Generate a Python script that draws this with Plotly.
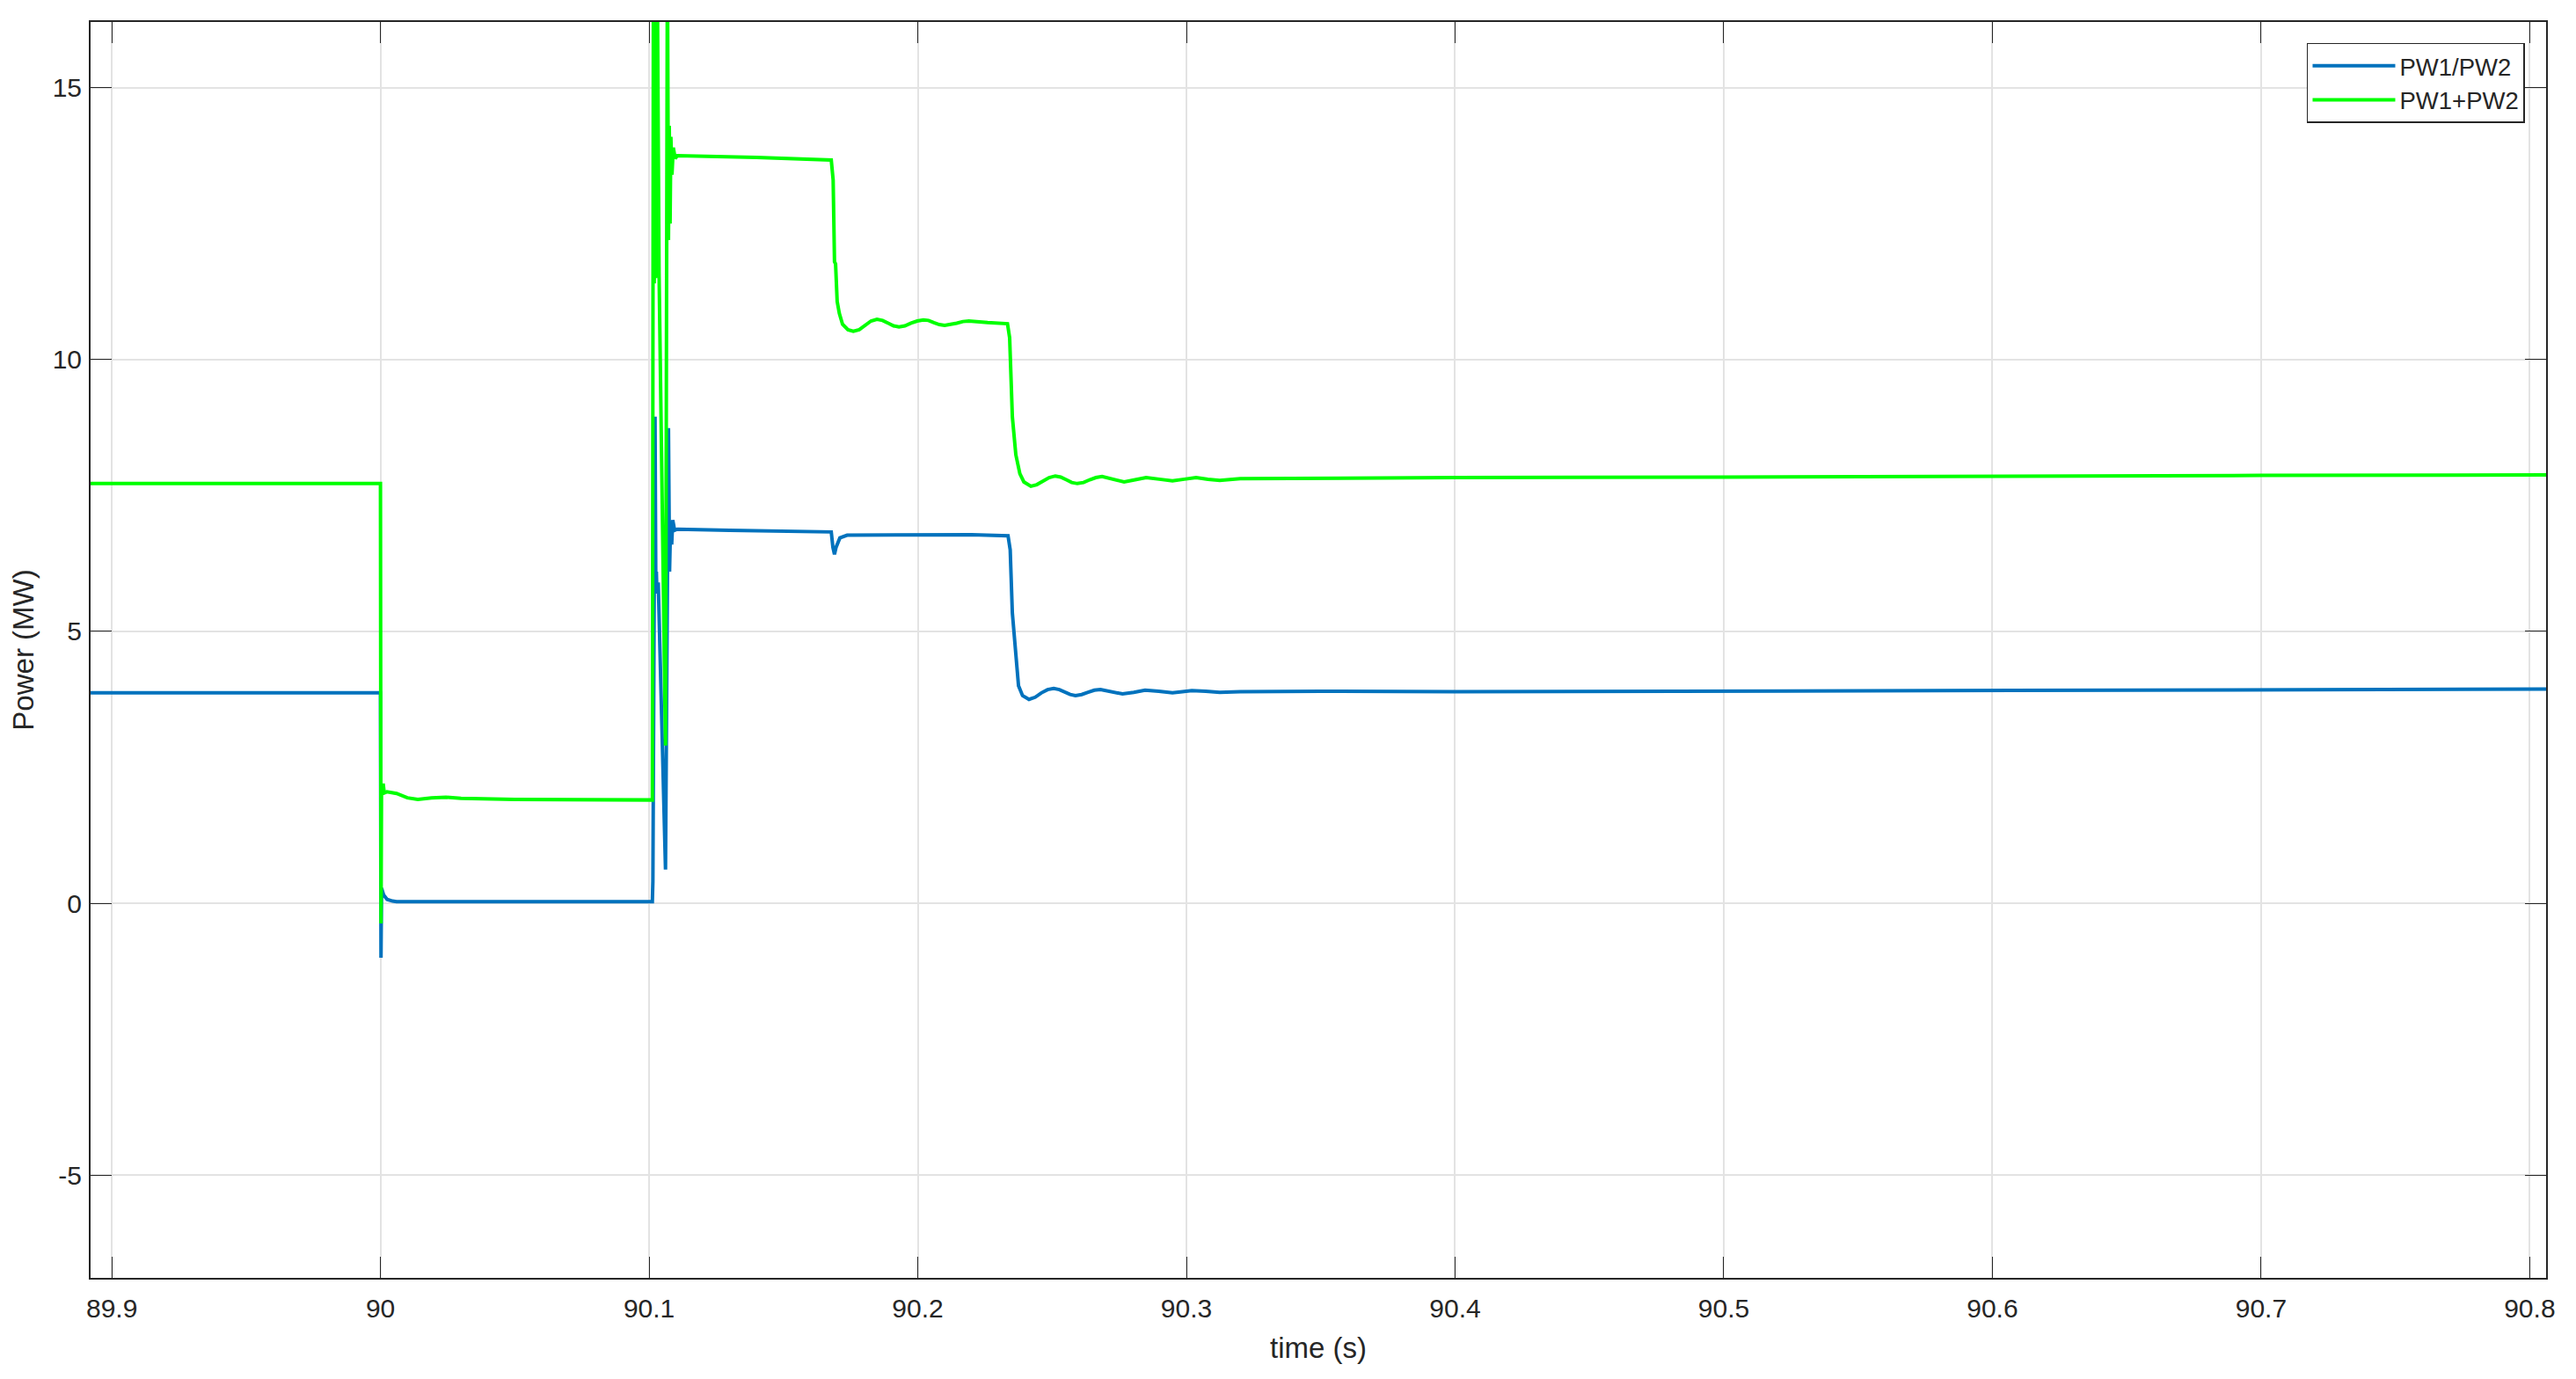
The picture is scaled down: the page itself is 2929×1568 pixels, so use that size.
import plotly.graph_objects as go

# ---------------- data ----------------
series_names = ["PW1/PW2", "PW1+PW2"]

t_ratio = [
    89.892, 90.0, 90.0002, 90.0004, 90.0012, 90.0025, 90.0045, 90.006, 90.05,
    90.1012, 90.1014, 90.1022, 90.1025, 90.1027, 90.1029, 90.1034, 90.1061,
    90.1072, 90.1076, 90.1080, 90.1084, 90.1088, 90.1095, 90.1105, 90.13,
    90.15, 90.1678, 90.1684, 90.1690, 90.1696, 90.1710, 90.1737, 90.20,
    90.22, 90.2336, 90.2344, 90.2352, 90.2375, 90.2390, 90.2414, 90.2437,
    90.2460, 90.2483, 90.2506, 90.2527, 90.2547, 90.2567, 90.2587, 90.2610,
    90.2634, 90.2657, 90.2680, 90.2721, 90.2762, 90.2804, 90.2846, 90.2897,
    90.2948, 90.2985, 90.3020, 90.3072, 90.3124, 90.32, 90.35, 90.40, 90.50,
    90.60, 90.70, 90.8061,
]
p_ratio = [
    3.87, 3.87, -1.0, 0.28, 0.15, 0.07, 0.04, 0.03, 0.03,
    0.03, 0.4, 8.95, 5.8, 6.1, 5.7, 5.9, 0.62,
    8.74, 6.1, 7.0, 6.6, 7.05, 6.86, 6.88, 6.86,
    6.85, 6.83, 6.55, 6.42, 6.55, 6.72, 6.77, 6.78,
    6.78, 6.76, 6.5, 5.34, 4.0, 3.82, 3.75, 3.79,
    3.87, 3.93, 3.95, 3.93, 3.88, 3.84, 3.82, 3.84,
    3.88, 3.92, 3.93, 3.89, 3.85, 3.88, 3.92, 3.9,
    3.87, 3.89, 3.91, 3.9, 3.88, 3.89, 3.9, 3.89, 3.9,
    3.91, 3.92, 3.94,
]

t_sum = [
    89.892, 90.0, 90.0002, 90.0004, 90.0007, 90.0010, 90.0014, 90.0024,
    90.006, 90.010, 90.0139, 90.019, 90.0244, 90.030, 90.050, 90.1012,
    90.1016, 90.1019, 90.1021, 90.1024, 90.1027, 90.1030, 90.1037, 90.1061,
    90.1068, 90.1072, 90.1075, 90.1078, 90.1081, 90.1085, 90.1090, 90.1097,
    90.1105, 90.14, 90.1678, 90.1685, 90.1690, 90.1694, 90.1700, 90.1708,
    90.1720, 90.1740, 90.1760, 90.1782, 90.1805, 90.1826, 90.1848, 90.1869,
    90.1890, 90.1910, 90.1930, 90.1952, 90.1975, 90.1998, 90.2021, 90.2040,
    90.2060, 90.2080, 90.2100, 90.2122, 90.2145, 90.2168, 90.2190, 90.2260,
    90.2334, 90.2342, 90.2349, 90.2352, 90.2365, 90.2380, 90.2395, 90.2421,
    90.2443, 90.2466, 90.2489, 90.2512, 90.2532, 90.2553, 90.2573, 90.2594,
    90.2617, 90.2640, 90.2663, 90.2686, 90.2727, 90.2768, 90.2809, 90.2850,
    90.2899, 90.2948, 90.2992, 90.3036, 90.3080, 90.3124, 90.32, 90.35,
    90.40, 90.50, 90.60, 90.70, 90.8061,
]
p_sum = [
    7.72, 7.72, -0.37, 2.2, 2.05, 2.2, 2.03, 2.05,
    2.02, 1.94, 1.91, 1.94, 1.95, 1.93, 1.91, 1.90,
    17.5, 11.4, 12.6, 11.5, 12.4, 17.5, 11.6, 2.9,
    17.5, 12.2, 14.3, 12.5, 14.1, 13.4, 13.9, 13.7,
    13.75, 13.72, 13.67, 13.3, 11.8, 11.76, 11.07, 10.85,
    10.65, 10.55, 10.52, 10.55, 10.63, 10.71, 10.74, 10.72,
    10.67, 10.62, 10.6, 10.62, 10.67, 10.71, 10.73, 10.72,
    10.68, 10.645, 10.63, 10.645, 10.67, 10.70, 10.71, 10.68,
    10.66, 10.4, 9.01, 8.95, 8.25, 7.9, 7.75, 7.67,
    7.7, 7.76, 7.83, 7.86, 7.84, 7.79, 7.74, 7.72,
    7.74, 7.79, 7.83, 7.85, 7.8, 7.75, 7.79, 7.83,
    7.8, 7.77, 7.8, 7.83, 7.8, 7.78, 7.81, 7.82,
    7.83, 7.84, 7.86, 7.87, 7.88,
]

x_tickvals = [89.9, 90.0, 90.1, 90.2, 90.3, 90.4, 90.5, 90.6, 90.7, 90.8]
x_ticktext = ["89.9", "90", "90.1", "90.2", "90.3", "90.4", "90.5", "90.6", "90.7", "90.8"]
y_tickvals = [-5, 0, 5, 10, 15]
y_ticktext = ["-5", "0", "5", "10", "15"]
x_range = [89.8921, 90.8061]
y_range = [-6.89, 16.21]

# ---------------- figure ----------------
FONT = "Liberation Sans, Arial, Helvetica, sans-serif"
AX = "#262626"
GRID = "#E3E3E3"

fig = go.Figure()
fig.add_trace(go.Scatter(x=t_ratio, y=p_ratio, mode="lines", name=series_names[0],
                         line=dict(color="#0072BD", width=4)))
fig.add_trace(go.Scatter(x=t_sum, y=p_sum, mode="lines", name=series_names[1],
                         line=dict(color="#00FF00", width=4)))

axis_common = dict(
    showline=True, linecolor=AX, linewidth=2, mirror="ticks",
    ticks="inside", ticklen=24, tickwidth=1.3, tickcolor=AX,
    showgrid=True, gridcolor=GRID, gridwidth=2, zeroline=False,
    tickfont=dict(family=FONT, size=30, color=AX),
)

# the page body adds an 8px offset; sizes below compensate for it
fig.update_layout(
    width=2921, height=1560,
    paper_bgcolor="white", plot_bgcolor="white",
    margin=dict(l=95, r=34, t=17, b=115),
    font=dict(family=FONT, color=AX),
    xaxis=dict(range=x_range, tickmode="array", tickvals=x_tickvals, ticktext=x_ticktext,
               title=dict(text="time (s)", font=dict(family=FONT, size=33, color=AX), standoff=18),
               ticklabelstandoff=7, **axis_common),
    yaxis=dict(range=y_range, tickmode="array", tickvals=y_tickvals, ticktext=y_ticktext,
               title=dict(text="Power (MW)", font=dict(family=FONT, size=33, color=AX), standoff=14),
               ticklabelstandoff=2, **axis_common),
    legend=dict(
        x=0.9914, y=0.9832, xanchor="right", yanchor="top",
        bgcolor="white", bordercolor=AX, borderwidth=1.5,
        font=dict(family=FONT, size=27.5, color=AX),
        itemwidth=94, tracegroupgap=0,
        entrywidth=148, entrywidthmode="pixels",
    ),
    showlegend=True,
)

fig.write_html("out.html")
